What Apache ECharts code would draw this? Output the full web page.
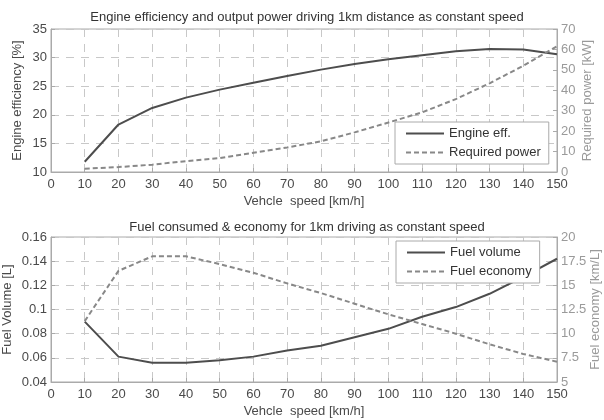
<!DOCTYPE html>
<html>
<head>
<meta charset="utf-8">
<script src="https://cdn.jsdelivr.net/npm/echarts@6/dist/echarts.min.js"></script>
<style>
  html, body { margin: 0; padding: 0; background: #fff; }
  #chart { width: 604px; height: 420px; }
</style>
</head>
<body>
<div id="chart"></div>
<script>
// vehicle speed [km/h]
var speeds = [10, 20, 30, 40, 50, 60, 70, 80, 90, 100, 110, 120, 130, 140, 150];
// top plot
var engineEff = [11.8, 18.3, 21.2, 23.0, 24.4, 25.6, 26.8, 27.9, 28.9, 29.7, 30.4, 31.1, 31.5, 31.4, 30.6];
var reqPower = [1.6, 2.4, 3.6, 5.3, 6.8, 9.4, 12.0, 15.0, 19.4, 24.2, 29.2, 35.7, 43.4, 52.0, 61.5];
// bottom plot
var fuelVolume = [0.090, 0.061, 0.056, 0.056, 0.058, 0.061, 0.066, 0.070, 0.077, 0.084, 0.094, 0.102, 0.113, 0.127, 0.142];
var fuelEconomy = [11.3, 16.5, 18.0, 18.0, 17.2, 16.3, 15.2, 14.2, 13.1, 12.0, 11.0, 10.0, 8.9, 7.9, 7.1];

function pairs(ys) {
  return speeds.map(function (x, i) { return [x, ys[i]]; });
}

var FONT = '"Liberation Sans", Arial, sans-serif';
var dark = '#4a4a4a';
var light = '#9a9a9a';

function xAxisCfg(gi) {
  return {
    type: 'value', gridIndex: gi, min: 0, max: 150, interval: 10,
    name: 'Vehcle  speed [km/h]', nameLocation: 'middle', nameGap: 23,
    nameTextStyle: { color: dark, fontSize: 13, fontFamily: FONT },
    axisLine: { lineStyle: { color: '#aaa' } },
    axisTick: { inside: true, length: 4, lineStyle: { color: '#aaa' } },
    axisLabel: { color: dark, fontSize: 13, fontFamily: FONT, margin: 6 },
    splitLine: { show: true, lineStyle: { type: [8, 7], color: '#c8c8c8' } }
  };
}

function yAxisCfg(gi, pos, min, max, interval, name, color, gap, split) {
  return {
    type: 'value', gridIndex: gi, position: pos, min: min, max: max, interval: interval,
    name: name, nameLocation: 'middle', nameGap: gap, nameMoveOverlap: false,
    nameTextStyle: { color: color, fontSize: 13, fontFamily: FONT },
    axisLine: { show: true, lineStyle: { color: '#aaa' } },
    axisTick: { show: true, inside: true, length: 4, lineStyle: { color: '#aaa' } },
    axisLabel: { color: color, fontSize: 13, fontFamily: FONT, margin: 4 },
    splitLine: { show: split, lineStyle: { type: [8, 7], color: '#c8c8c8' } }
  };
}

var legendBase = {
  orient: 'vertical', padding: [5, 8, 5, 10], itemGap: 6, itemWidth: 38, itemHeight: 13,
  borderColor: '#aaa', borderWidth: 1, backgroundColor: '#fff',
  itemStyle: { opacity: 0 },
  textStyle: { color: '#333', fontSize: 13, fontFamily: FONT }
};

var chart = echarts.init(document.getElementById('chart'));
chart.setOption({
  animation: false,
  title: [
    { text: 'Engine efficiency and output power driving 1km distance as constant speed',
      left: 302, top: 6, textAlign: 'center',
      textStyle: { fontSize: 13, fontWeight: 'normal', color: '#333', fontFamily: FONT } },
    { text: 'Fuel consumed & economy for 1km driving as constant speed',
      left: 302, top: 216, textAlign: 'center',
      textStyle: { fontSize: 13, fontWeight: 'normal', color: '#333', fontFamily: FONT } }
  ],
  grid: [
    { left: 51, right: 47, top: 29, height: 143, show: true, borderColor: '#aaa', borderWidth: 1,
      containLabel: false, outerBoundsMode: 'none' },
    { left: 51, right: 47, top: 237, height: 145, show: true, borderColor: '#aaa', borderWidth: 1,
      containLabel: false, outerBoundsMode: 'none' }
  ],
  legend: [
    Object.assign({ data: ['Engine eff.', 'Required power'], left: 395, top: 122 }, legendBase),
    Object.assign({ data: ['Fuel volume', 'Fuel economy'], left: 396, top: 241 }, legendBase)
  ],
  xAxis: [xAxisCfg(0), xAxisCfg(1)],
  yAxis: [
    yAxisCfg(0, 'left', 10, 35, 5, 'Engine efficiency [%]', dark, 27, true),
    yAxisCfg(0, 'right', 0, 70, 10, 'Required power [kW]', light, 24, false),
    yAxisCfg(1, 'left', 0.04, 0.16, 0.02, 'Fuel Volume [L]', dark, 37, true),
    yAxisCfg(1, 'right', 5, 20, 2.5, 'Fuel economy [km/L]', light, 32, false)
  ],
  series: [
    { name: 'Engine eff.', type: 'line', xAxisIndex: 0, yAxisIndex: 0, data: pairs(engineEff),
      symbol: 'none', lineStyle: { color: '#4d4d4d', width: 2 }, itemStyle: { color: '#4d4d4d' } },
    { name: 'Required power', type: 'line', xAxisIndex: 0, yAxisIndex: 1, data: pairs(reqPower),
      symbol: 'none', lineStyle: { color: '#888', width: 2, type: [5, 3] }, itemStyle: { color: '#888' } },
    { name: 'Fuel volume', type: 'line', xAxisIndex: 1, yAxisIndex: 2, data: pairs(fuelVolume),
      symbol: 'none', lineStyle: { color: '#4d4d4d', width: 2 }, itemStyle: { color: '#4d4d4d' } },
    { name: 'Fuel economy', type: 'line', xAxisIndex: 1, yAxisIndex: 3, data: pairs(fuelEconomy),
      symbol: 'none', lineStyle: { color: '#888', width: 2, type: [5, 3] }, itemStyle: { color: '#888' } }
  ]
});
</script>
</body>
</html>
